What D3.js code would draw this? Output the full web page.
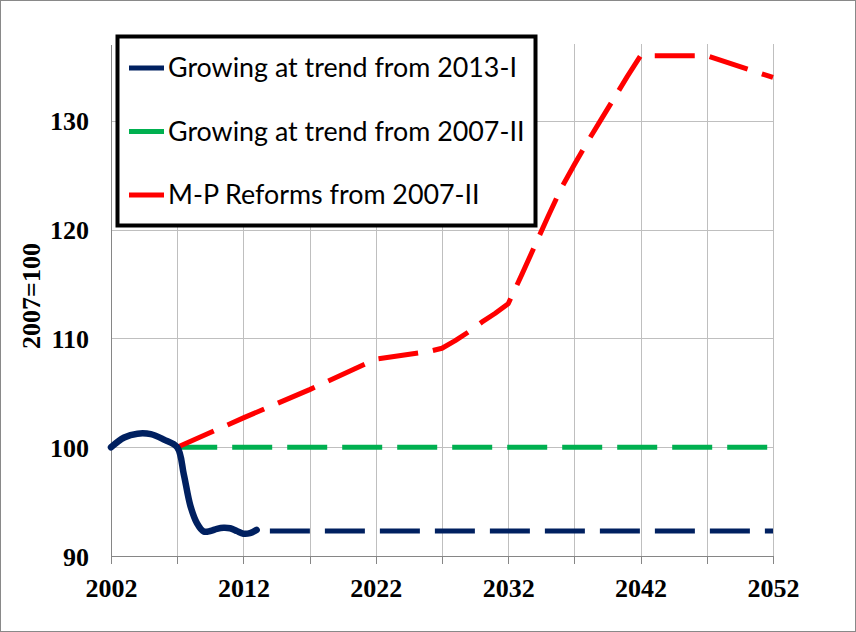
<!DOCTYPE html>
<html>
<head>
<meta charset="utf-8">
<script src="https://cdn.jsdelivr.net/npm/d3@7"></script>
<style>
  html, body { margin: 0; padding: 0; background: #fff; }
  svg { display: block; }
</style>
</head>
<body>
<svg id="chart" width="856" height="632"></svg>
<script>
// ---------------- data ----------------
const seriesNames = [
  "Growing at trend from 2013-I",
  "Growing at trend from 2007-II",
  "M-P Reforms from 2007-II"
];
const seriesColors = ["#002060", "#00b050", "#ff0000"];

// Actual path (solid) up to 2013-I
const actualYears  = [2002, 2003, 2004, 2005, 2006, 2007, 2007.5, 2008, 2008.5, 2009, 2009.5, 2010, 2010.5, 2011, 2011.5, 2012, 2012.5, 2013];
const actualValues = [100.0, 100.9, 101.25, 101.2, 100.7, 100.0, 97.5, 94.6, 93.0, 92.25, 92.3, 92.5, 92.6, 92.55, 92.3, 92.05, 92.1, 92.4];

// Growing at trend from 2013-I (dashed continuation)
const trend2013Years  = [2014, 2052];
const trend2013Values = [92.3, 92.3];

// Growing at trend from 2007-II
const trend2007Years  = [2007, 2052];
const trend2007Values = [100, 100];

// M-P Reforms from 2007-II
const reformYears  = [2007, 2012, 2017, 2022, 2026, 2027, 2028, 2029, 2030, 2031, 2032, 2033, 2034, 2035, 2036, 2037, 2038, 2039, 2040, 2041, 2042, 2047, 2052];
const reformValues = [100, 102.7, 105.3, 108.1, 108.8, 109.1, 109.8, 110.6, 111.5, 112.3, 113.2, 115.8, 118.5, 121.2, 123.8, 126.0, 128.1, 130.1, 132.1, 134.1, 136.0, 136.0, 134.0];

const xTickLabels = [2002, 2012, 2022, 2032, 2042, 2052];
const xGridYears  = [2007, 2012, 2017, 2022, 2027, 2032, 2037, 2042, 2047, 2052];
const yTickLabels = [90, 100, 110, 120, 130];
const yTitle = "2007=100";

// ---------------- layout ----------------
const svg = d3.select("#chart");
const W = 856, H = 632;
const plot = { left: 111, right: 773, top: 44, bottom: 556 };

const x = d3.scaleLinear().domain([2002, 2052]).range([plot.left, plot.right]);
const y = d3.scaleLinear().domain([90, 137.08]).range([plot.bottom, plot.top]);

// outer border
svg.append("rect")
  .attr("x", 0.5).attr("y", 0.5).attr("width", W - 1).attr("height", H - 1)
  .attr("fill", "#fff").attr("stroke", "#898989").attr("stroke-width", 1);

// gridlines
const grid = svg.append("g").attr("shape-rendering", "crispEdges");
grid.selectAll("line.h").data(yTickLabels.filter(v => v > 90)).join("line")
  .attr("x1", plot.left).attr("x2", plot.right)
  .attr("y1", d => Math.round(y(d)) + 0.5).attr("y2", d => Math.round(y(d)) + 0.5)
  .attr("stroke", "#bfbfbf").attr("stroke-width", 1);
grid.selectAll("line.v").data(xGridYears).join("line")
  .attr("y1", plot.top).attr("y2", plot.bottom)
  .attr("x1", d => Math.round(x(d)) + 0.5).attr("x2", d => Math.round(x(d)) + 0.5)
  .attr("stroke", "#bfbfbf").attr("stroke-width", 1);

// x axis
const xAxis = d3.axisBottom(x)
  .tickValues([2002].concat(xGridYears))
  .tickSize(8)
  .tickFormat(d => xTickLabels.includes(d) ? String(d) : "");
const gx = svg.append("g")
  .attr("transform", `translate(0,${plot.bottom})`)
  .call(xAxis);
gx.select(".domain").attr("stroke", "#868686").attr("shape-rendering", "crispEdges");
gx.selectAll(".tick line").attr("stroke", "#868686").attr("shape-rendering", "crispEdges");
gx.selectAll(".tick text")
  .attr("font-family", "'Liberation Serif', 'Times New Roman', serif")
  .attr("font-weight", "bold").attr("font-size", 26).attr("fill", "#000")
  .attr("y", 0).attr("dy", 0)
  .attr("transform", "translate(0,41)");

// y axis
const yAxis = d3.axisLeft(y).tickValues(yTickLabels).tickSize(0).tickPadding(22)
  .tickFormat(d3.format("d"));
const gy = svg.append("g")
  .attr("transform", `translate(${plot.left},0)`)
  .call(yAxis);
gy.select(".domain").attr("stroke", "#868686").attr("shape-rendering", "crispEdges");
gy.selectAll(".tick text")
  .attr("font-family", "'Liberation Serif', 'Times New Roman', serif")
  .attr("font-weight", "bold").attr("font-size", 26).attr("fill", "#000")
  .attr("dy", 0).attr("y", 9);

// y title
svg.append("text")
  .attr("transform", "translate(40,296) rotate(-90)")
  .attr("text-anchor", "middle")
  .attr("font-family", "'Liberation Serif', 'Times New Roman', serif")
  .attr("font-weight", "bold").attr("font-size", 26).attr("fill", "#000")
  .text(yTitle);

// lines
const zip = (a, b) => a.map((v, i) => [v, b[i]]);
const straight = d3.line().x(d => x(d[0])).y(d => y(d[1]));

const lines = svg.append("g").attr("fill", "none").attr("stroke-linecap", "butt").attr("stroke-linejoin", "round");

lines.append("path")
  .datum(zip(trend2007Years, trend2007Values))
  .attr("d", straight)
  .attr("stroke", seriesColors[1]).attr("stroke-width", 5)
  .attr("stroke-dasharray", "40,15");

lines.append("path")
  .datum(zip(reformYears, reformValues))
  .attr("d", straight)
  .attr("stroke", seriesColors[2]).attr("stroke-width", 5)
  .attr("stroke-dasharray", "40,15");

lines.append("path")
  .datum(zip(trend2013Years, trend2013Values))
  .attr("d", straight)
  .attr("stroke", seriesColors[0]).attr("stroke-width", 5)
  .attr("stroke-dasharray", "40,15");

lines.append("path")
  .datum(zip(actualYears, actualValues))
  .attr("d", d3.line().x(d => x(d[0])).y(d => y(d[1])).curve(d3.curveCatmullRom.alpha(0.5)))
  .attr("stroke", seriesColors[0]).attr("stroke-width", 6.5)
  .attr("stroke-linecap", "round");

// legend
const legend = svg.append("g");
legend.append("rect")
  .attr("x", 117.5).attr("y", 36.5).attr("width", 418).attr("height", 189)
  .attr("fill", "#fff").attr("stroke", "#000").attr("stroke-width", 4);
const rowY = [68, 131.5, 195];
const rows = legend.selectAll("g.row").data(seriesNames).join("g");
rows.append("line")
  .attr("x1", 129).attr("x2", 164)
  .attr("y1", (d, i) => rowY[i]).attr("y2", (d, i) => rowY[i])
  .attr("stroke", (d, i) => seriesColors[i]).attr("stroke-width", 5);
const texts = rows.append("text")
  .attr("x", 168).attr("y", (d, i) => rowY[i] + 9)
  .attr("font-family", "Lato, 'Open Sans', sans-serif")
  .attr("font-size", 26).attr("fill", "#000")
  .text(d => d);
// fit the first entry to the reference width
const w0 = texts.nodes()[0].getComputedTextLength();
const fs = 26 * 349 / w0;
texts.attr("font-size", fs);
</script>
</body>
</html>
